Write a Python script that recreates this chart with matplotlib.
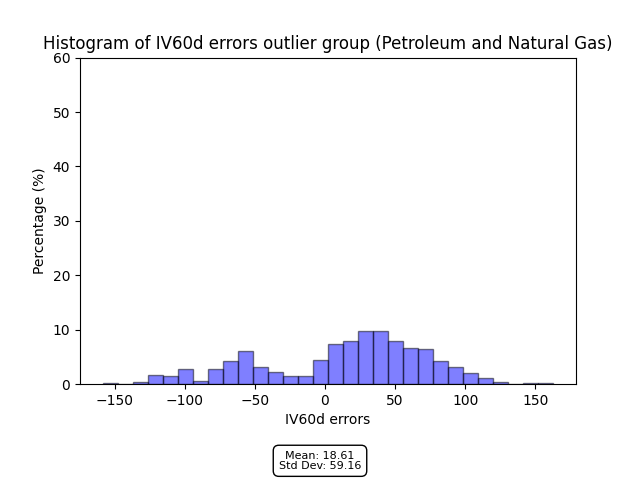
import numpy as np
import matplotlib
matplotlib.use('Agg')
from matplotlib import pyplot as plt

# bin edges (30 bins)
edge_min = -158.6
edge_max = 162.9
# percentage per bin
percent = [0.25, 0.0, 0.4, 1.6, 1.4, 2.7, 0.55, 2.7, 4.2, 6.0,
           3.1, 2.2, 1.4, 1.4, 4.5, 7.3, 7.85, 9.7, 9.7, 7.85,
           6.6, 6.4, 4.2, 3.1, 2.0, 1.05, 0.3, 0.0, 0.15, 0.15]
mean_val = 18.61
std_val = 59.16

edges = np.linspace(edge_min, edge_max, len(percent) + 1)
widths = np.diff(edges)

fig, ax = plt.subplots(figsize=(6.4, 4.8), dpi=100)
fig.subplots_adjust(bottom=0.2)
ax.bar(edges[:-1], percent, width=widths, align='edge',
       color='blue', alpha=0.5, edgecolor='black')
ax.set_ylim(0, 60)
ax.set_title('Histogram of IV60d errors outlier group (Petroleum and Natural Gas)')
ax.set_xlabel('IV60d errors')
ax.set_ylabel('Percentage (%)')
fig.text(0.5, 0.04, 'Mean: %.2f\nStd Dev: %.2f' % (mean_val, std_val),
         ha='center', va='center', fontsize=8, linespacing=1.0,
         bbox=dict(boxstyle='round,pad=0.5', facecolor='white', edgecolor='black'))
fig.savefig('out.png', dpi=100)
